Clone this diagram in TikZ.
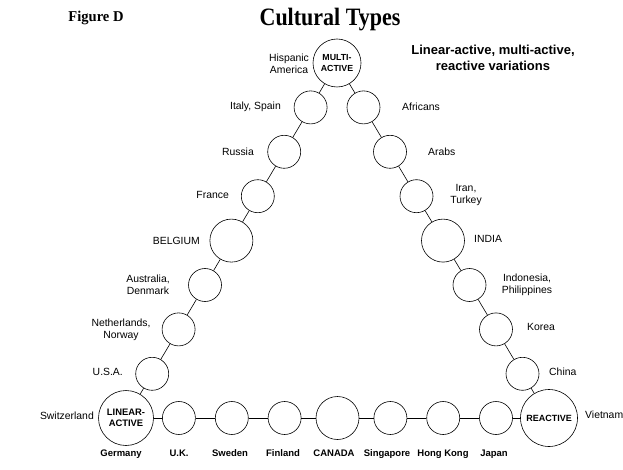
\documentclass[tikz,border=0pt]{standalone}
\usepackage{fontspec}
\setmainfont{Liberation Sans}
\newfontfamily\titlefont{Liberation Serif}
\begin{document}
\begin{tikzpicture}[x=1pt,y=-1pt,
  ball/.style={circle,draw,line width=0.6pt,inner sep=0pt,minimum size=33pt},
  bigball/.style={ball,minimum size=43pt},
  vtx/.style={ball,minimum size=55pt,font=\fontsize{9.4}{10.5}\selectfont\bfseries,align=center},
  lbl/.style={font=\fontsize{10.4}{12.5}\selectfont,inner sep=0pt,align=center},
  blbl/.style={font=\fontsize{9.5}{11}\selectfont\bfseries,inner sep=0pt,anchor=base},
  link/.style={line width=0.6pt}]
\useasboundingbox (0,0) rectangle (623,470);
\fill[white] (0,0) rectangle (623,470);

% titles
\node[inner sep=0pt,font=\titlefont\bfseries\fontsize{25}{25}\selectfont] (title) at (330,20) {\scalebox{0.88}[1]{Cultural Types}};
\node[inner sep=0pt,font=\titlefont\bfseries\fontsize{15}{15}\selectfont] (fig) at (96,18) {\scalebox{0.97}[1]{Figure D}};
\node[inner sep=0pt,align=center,font=\fontsize{13}{16}\selectfont\bfseries] (sub) at (493,58) {Linear-active, multi-active,\\reactive variations};

% vertices
\node[vtx,minimum size=48pt,font=\fontsize{8.8}{10.5}\selectfont\bfseries] (M) at (337,63) {MULTI-\\ACTIVE};
\node[vtx] (L) at (126,418) {LINEAR-\\ACTIVE};
\node[vtx,minimum size=57pt,font=\fontsize{9}{10.5}\selectfont\bfseries] (R) at (549,418) {REACTIVE};

% left side
\node[ball] (l1) at (310.6,107.4) {};
\node[ball] (l2) at (284.2,151.8) {};
\node[ball] (l3) at (257.8,196.2) {};
\node[bigball] (l4) at (231.4,240.6) {};
\node[ball] (l5) at (205,285) {};
\node[ball] (l6) at (178.6,329.4) {};
\node[ball] (l7) at (152.2,373.8) {};

% right side
\node[ball] (r1) at (363.5,107.4) {};
\node[ball] (r2) at (390,151.8) {};
\node[ball] (r3) at (416.5,196.2) {};
\node[bigball] (r4) at (443,240.6) {};
\node[ball] (r5) at (469.5,285) {};
\node[ball] (r6) at (496,329.4) {};
\node[ball] (r7) at (522.5,373.8) {};

% bottom
\node[ball] (b1) at (178.9,418) {};
\node[ball] (b2) at (231.8,418) {};
\node[ball] (b3) at (284.6,418) {};
\node[bigball] (b4) at (337.5,418) {};
\node[ball] (b5) at (390.4,418) {};
\node[ball] (b6) at (443.2,418) {};
\node[ball] (b7) at (496,418) {};

% connectors
\draw[link] (M) -- (l1) -- (l2) -- (l3) -- (l4) -- (l5) -- (l6) -- (l7) -- (L);
\draw[link] (M) -- (r1) -- (r2) -- (r3) -- (r4) -- (r5) -- (r6) -- (r7) -- (R);
\draw[link] (L) -- (b1) -- (b2) -- (b3) -- (b4) -- (b5) -- (b6) -- (b7) -- (R);

% left labels
\node[lbl] (tHisp) at (289,64) {Hispanic\\America};
\node[lbl,anchor=east] (tItaly) at (281,107) {Italy, Spain};
\node[lbl,anchor=east] (tRussia) at (254,152) {Russia};
\node[lbl,anchor=east] (tFrance) at (229,195) {France};
\node[lbl,anchor=east] (tBelg) at (200,241) {BELGIUM};
\node[lbl] (tAus) at (148,285) {Australia,\\Denmark};
\node[lbl] (tNeth) at (121,330) {Netherlands,\\Norway};
\node[lbl,anchor=east] (tUSA) at (123,372) {U.S.A.};
\node[lbl,anchor=east] (tSwitz) at (94,416) {Switzerland};

% right labels
\node[lbl,anchor=west] (tAfr) at (402,107) {Africans};
\node[lbl,anchor=west] (tArabs) at (428,152) {Arabs};
\node[lbl] (tIran) at (466,195) {Iran,\\Turkey};
\node[lbl,anchor=west] (tIndia) at (474,239) {INDIA};
\node[lbl] (tIndo) at (527,285) {Indonesia,\\Philippines};
\node[lbl,anchor=west] (tKorea) at (527,327) {Korea};
\node[lbl,anchor=west] (tChina) at (549,372) {China};
\node[lbl,anchor=west] (tViet) at (585,415) {Vietnam};

% bottom labels
\node[blbl] (tGer) at (121,456) {Germany};
\node[blbl] (tUK) at (179,456) {U.K.};
\node[blbl] (tSwe) at (230,456) {Sweden};
\node[blbl] (tFin) at (283,456) {Finland};
\node[blbl] (tCan) at (334,456) {CANADA};
\node[blbl] (tSing) at (387,456) {Singapore};
\node[blbl] (tHK) at (443,456) {Hong Kong};
\node[blbl] (tJap) at (494,456) {Japan};
\end{tikzpicture}
\end{document}
